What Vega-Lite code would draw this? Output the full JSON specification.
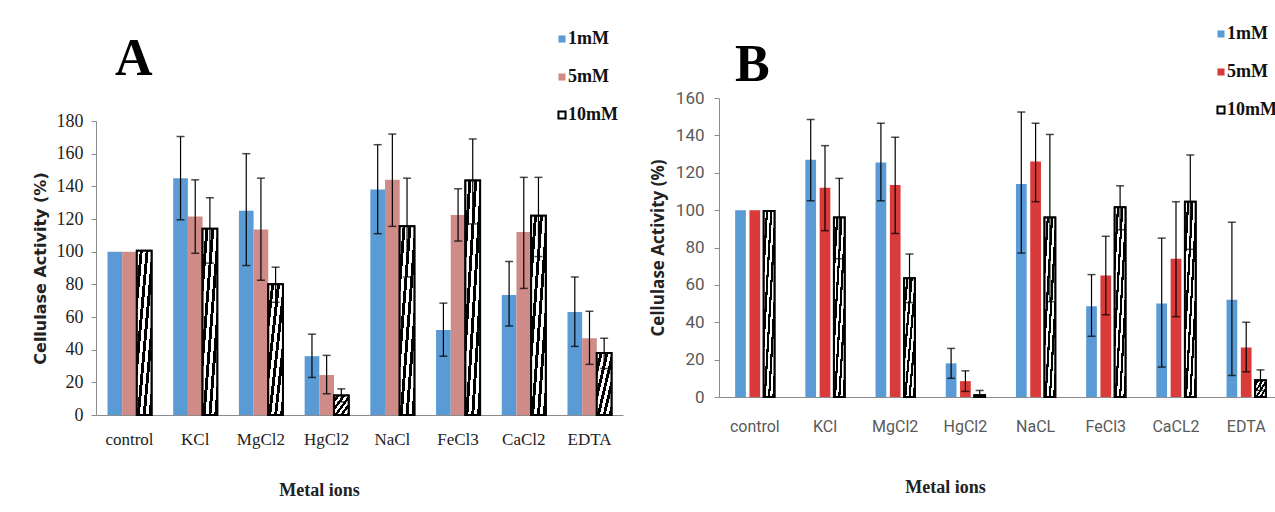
{
  "$schema": "https://vega.github.io/schema/vega-lite/v6.json",
  "background": "white",
  "padding": {"left": 32, "top": 25, "right": 0, "bottom": 0},
  "spacing": 26,
  "config": {
    "view": {"stroke": null},
    "axis": {"grid": false}
  },
  "datasets": {
    "A": [
      {"ion": "control", "conc": "1mM", "v": 100},
      {"ion": "control", "conc": "5mM", "v": 100},
      {"ion": "control", "conc": "10mM", "v": 100.5},
      {"ion": "KCl", "conc": "1mM", "v": 145, "lo": 119.5, "hi": 170.5},
      {"ion": "KCl", "conc": "5mM", "v": 121.5, "lo": 99, "hi": 144},
      {"ion": "KCl", "conc": "10mM", "v": 114, "lo": 93, "hi": 133},
      {"ion": "MgCl2", "conc": "1mM", "v": 125, "lo": 91.5, "hi": 160},
      {"ion": "MgCl2", "conc": "5mM", "v": 113.5, "lo": 82.5, "hi": 145},
      {"ion": "MgCl2", "conc": "10mM", "v": 80, "lo": 69, "hi": 90.5},
      {"ion": "HgCl2", "conc": "1mM", "v": 36, "lo": 23, "hi": 49.5},
      {"ion": "HgCl2", "conc": "5mM", "v": 24.5, "lo": 13, "hi": 36.5},
      {"ion": "HgCl2", "conc": "10mM", "v": 12, "lo": 8, "hi": 16},
      {"ion": "NaCl", "conc": "1mM", "v": 138, "lo": 111, "hi": 165.5},
      {"ion": "NaCl", "conc": "5mM", "v": 144, "lo": 115.5, "hi": 172},
      {"ion": "NaCl", "conc": "10mM", "v": 115.5, "lo": 84.5, "hi": 145},
      {"ion": "FeCl3", "conc": "1mM", "v": 52, "lo": 36, "hi": 68.5},
      {"ion": "FeCl3", "conc": "5mM", "v": 122.5, "lo": 106.5, "hi": 138.5},
      {"ion": "FeCl3", "conc": "10mM", "v": 143.5, "lo": 117, "hi": 169},
      {"ion": "CaCl2", "conc": "1mM", "v": 73.5, "lo": 54.5, "hi": 94},
      {"ion": "CaCl2", "conc": "5mM", "v": 112, "lo": 77.5, "hi": 145.5},
      {"ion": "CaCl2", "conc": "10mM", "v": 122, "lo": 97, "hi": 145.5},
      {"ion": "EDTA", "conc": "1mM", "v": 63, "lo": 42, "hi": 84.5},
      {"ion": "EDTA", "conc": "5mM", "v": 47, "lo": 31, "hi": 63.5},
      {"ion": "EDTA", "conc": "10mM", "v": 38, "lo": 28.5, "hi": 47}
    ],
    "B": [
      {"ion": "control", "conc": "1mM", "v": 100},
      {"ion": "control", "conc": "5mM", "v": 100},
      {"ion": "control", "conc": "10mM", "v": 99.5},
      {"ion": "KCl", "conc": "1mM", "v": 127, "lo": 105, "hi": 148.5},
      {"ion": "KCl", "conc": "5mM", "v": 112, "lo": 89, "hi": 134.5},
      {"ion": "KCl", "conc": "10mM", "v": 96, "lo": 74, "hi": 117},
      {"ion": "MgCl2", "conc": "1mM", "v": 125.5, "lo": 105, "hi": 146.5},
      {"ion": "MgCl2", "conc": "5mM", "v": 113.5, "lo": 87.5, "hi": 139},
      {"ion": "MgCl2", "conc": "10mM", "v": 63.5, "lo": 50.5, "hi": 76.5},
      {"ion": "HgCl2", "conc": "1mM", "v": 18, "lo": 10, "hi": 26},
      {"ion": "HgCl2", "conc": "5mM", "v": 8.5, "lo": 3, "hi": 14},
      {"ion": "HgCl2", "conc": "10mM", "v": 1, "lo": 0, "hi": 3.5},
      {"ion": "NaCL", "conc": "1mM", "v": 114, "lo": 77, "hi": 152.5},
      {"ion": "NaCL", "conc": "5mM", "v": 126, "lo": 104.5, "hi": 146.5},
      {"ion": "NaCL", "conc": "10mM", "v": 96, "lo": 51, "hi": 140.5},
      {"ion": "FeCl3", "conc": "1mM", "v": 48.5, "lo": 32.5, "hi": 65.5},
      {"ion": "FeCl3", "conc": "5mM", "v": 65, "lo": 44, "hi": 86},
      {"ion": "FeCl3", "conc": "10mM", "v": 101.5, "lo": 89.5, "hi": 113},
      {"ion": "CaCL2", "conc": "1mM", "v": 50, "lo": 16, "hi": 85},
      {"ion": "CaCL2", "conc": "5mM", "v": 74, "lo": 43, "hi": 104.5},
      {"ion": "CaCL2", "conc": "10mM", "v": 104.5, "lo": 79, "hi": 129.5},
      {"ion": "EDTA", "conc": "1mM", "v": 52, "lo": 11.5, "hi": 93.5},
      {"ion": "EDTA", "conc": "5mM", "v": 26.5, "lo": 13.5, "hi": 40},
      {"ion": "EDTA", "conc": "10mM", "v": 9, "lo": 3.5, "hi": 14.5}
    ]
  },
  "resolve": {"scale": {"color": "independent", "stroke": "independent", "x": "independent", "y": "independent", "xOffset": "independent"}, "legend": {"color": "independent", "stroke": "independent"}},
  "hconcat": [
    {
      "width": 527,
      "height": 317,
      "data": {"name": "A"},
      "title": {"text": "A", "anchor": "start", "frame": "group", "dx": 19, "offset": -56, "font": "Liberation Serif", "fontSize": 52, "fontWeight": "bold", "color": "black"},
      "encoding": {
        "x": {
          "field": "ion", "type": "nominal",
          "sort": ["control", "KCl", "MgCl2", "HgCl2", "NaCl", "FeCl3", "CaCl2", "EDTA"],
          "scale": {"paddingInner": 0.33, "paddingOuter": 0.175},
          "title": "Metal ions",
          "axis": {"labelAngle": 0, "labelFont": "Liberation Serif", "labelFontSize": 17, "labelColor": "#222222", "ticks": false, "domainColor": "#8c8c8c", "labelPadding": 16, "titleFont": "Liberation Serif", "titleFontSize": 18, "titleFontWeight": "bold", "titleColor": "#222222", "titleX": 223, "titleY": 75, "titleBaseline": "middle"}
        },
        "xOffset": {"field": "conc", "type": "nominal", "sort": ["1mM", "5mM", "10mM"], "scale": {"paddingInner": 0, "paddingOuter": 0}}
      },
      "layer": [
        {
          "mark": {"type": "bar", "strokeWidth": 2},
          "encoding": {
            "y": {"field": "v", "type": "quantitative", "scale": {"domain": [0, 180], "range": [317, 23]}, "title": "Cellulase Activity (%)",
              "axis": {"values": [0, 20, 40, 60, 80, 100, 120, 140, 160, 180], "titleFont": "DejaVu Sans", "titleFontSize": 16, "titleFontWeight": "bold", "titleColor": "#222222", "labelFont": "Liberation Serif", "labelFontSize": 18, "labelColor": "#222222", "domainColor": "#8c8c8c", "tickColor": "#8c8c8c", "tickSize": 5, "labelPadding": 8, "titlePadding": 8}},
            "color": {"field": "conc", "type": "nominal", "sort": ["1mM", "5mM", "10mM"], "scale": {"domain": ["1mM", "5mM", "10mM"], "range": ["#5b9bd5", "#cf8b88", "#ffffff"]},
              "legend": {"orient": "none", "legendX": 457, "legendY": -68, "title": null, "labelFont": "Liberation Serif", "labelFontWeight": "bold", "labelFontSize": 18, "labelColor": "#111111", "symbolType": "square", "symbolSize": 50, "symbolStrokeWidth": 2, "rowPadding": 20, "labelOffset": -3, "padding": 0}},
            "stroke": {"field": "conc", "type": "nominal", "sort": ["1mM", "5mM", "10mM"], "scale": {"domain": ["1mM", "5mM", "10mM"], "range": ["transparent", "transparent", "#000000"]},
              "legend": {"orient": "none", "legendX": 457, "legendY": -68, "title": null, "labelFont": "Liberation Serif", "labelFontWeight": "bold", "labelFontSize": 18, "labelColor": "#111111", "symbolType": "square", "symbolSize": 50, "symbolStrokeWidth": 2, "rowPadding": 20, "labelOffset": -3, "padding": 0}}
          }
        },
        {
          "transform": [{"filter": "datum.conc === '10mM'"}],
          "mark": {"type": "bar", "stroke": "#000000", "strokeWidth": 2, "fill": {"gradient": "linear", "x1": 0, "y1": 0, "x2": 1, "y2": 1, "stops": [
            {"offset": 0, "color": "#ffffff"}, {"offset": 0.1, "color": "#ffffff"}, {"offset": 0.1, "color": "#000000"}, {"offset": 0.2, "color": "#000000"},
            {"offset": 0.2, "color": "#ffffff"}, {"offset": 0.3, "color": "#ffffff"}, {"offset": 0.3, "color": "#000000"}, {"offset": 0.4, "color": "#000000"},
            {"offset": 0.4, "color": "#ffffff"}, {"offset": 0.5, "color": "#ffffff"}, {"offset": 0.5, "color": "#000000"}, {"offset": 0.6, "color": "#000000"},
            {"offset": 0.6, "color": "#ffffff"}, {"offset": 0.7, "color": "#ffffff"}, {"offset": 0.7, "color": "#000000"}, {"offset": 0.8, "color": "#000000"},
            {"offset": 0.8, "color": "#ffffff"}, {"offset": 0.9, "color": "#ffffff"}, {"offset": 0.9, "color": "#000000"}, {"offset": 1, "color": "#000000"}]}},
          "encoding": {"y": {"field": "v", "type": "quantitative", "title": "Cellulase Activity (%)",
              "axis": {"values": [0, 20, 40, 60, 80, 100, 120, 140, 160, 180], "titleFont": "DejaVu Sans", "titleFontSize": 16, "titleFontWeight": "bold", "titleColor": "#222222", "labelFont": "Liberation Serif", "labelFontSize": 18, "labelColor": "#222222", "domainColor": "#8c8c8c", "tickColor": "#8c8c8c", "tickSize": 5, "labelPadding": 8, "titlePadding": 8}}}
        },
        {
          "transform": [{"filter": "isValid(datum.lo)"}],
          "mark": {"type": "rule", "color": "#000000", "strokeWidth": 1.2},
          "encoding": {"y": {"field": "lo", "type": "quantitative", "title": "Cellulase Activity (%)",
              "axis": {"values": [0, 20, 40, 60, 80, 100, 120, 140, 160, 180], "titleFont": "DejaVu Sans", "titleFontSize": 16, "titleFontWeight": "bold", "titleColor": "#222222", "labelFont": "Liberation Serif", "labelFontSize": 18, "labelColor": "#222222", "domainColor": "#8c8c8c", "tickColor": "#8c8c8c", "tickSize": 5, "labelPadding": 8, "titlePadding": 8}}, "y2": {"field": "hi"}}
        },
        {
          "transform": [{"filter": "isValid(datum.hi)"}],
          "mark": {"type": "tick", "color": "#000000", "size": 8, "thickness": 1.5},
          "encoding": {"y": {"field": "hi", "type": "quantitative", "title": "Cellulase Activity (%)",
              "axis": {"values": [0, 20, 40, 60, 80, 100, 120, 140, 160, 180], "titleFont": "DejaVu Sans", "titleFontSize": 16, "titleFontWeight": "bold", "titleColor": "#222222", "labelFont": "Liberation Serif", "labelFontSize": 18, "labelColor": "#222222", "domainColor": "#8c8c8c", "tickColor": "#8c8c8c", "tickSize": 5, "labelPadding": 8, "titlePadding": 8}}}
        },
        {
          "transform": [{"filter": "isValid(datum.lo)"}],
          "mark": {"type": "tick", "color": "#000000", "size": 8, "thickness": 1.5},
          "encoding": {"y": {"field": "lo", "type": "quantitative", "title": "Cellulase Activity (%)",
              "axis": {"values": [0, 20, 40, 60, 80, 100, 120, 140, 160, 180], "titleFont": "DejaVu Sans", "titleFontSize": 16, "titleFontWeight": "bold", "titleColor": "#222222", "labelFont": "Liberation Serif", "labelFontSize": 18, "labelColor": "#222222", "domainColor": "#8c8c8c", "tickColor": "#8c8c8c", "tickSize": 5, "labelPadding": 8, "titlePadding": 8}}}
        }
      ]
    },
    {
      "width": 563,
      "height": 299,
      "data": {"name": "B"},
      "title": {"text": "B", "anchor": "start", "frame": "group", "dx": 16, "offset": -67, "font": "Liberation Serif", "fontSize": 52, "fontWeight": "bold", "color": "black"},
      "encoding": {
        "x": {
          "field": "ion", "type": "nominal",
          "sort": ["control", "KCl", "MgCl2", "HgCl2", "NaCL", "FeCl3", "CaCL2", "EDTA"],
          "scale": {"paddingInner": 0.44, "paddingOuter": 0.23},
          "title": "Metal ions",
          "axis": {"labelAngle": 0, "labelFont": "Roboto", "labelFontSize": 16, "labelColor": "#595959", "ticks": false, "domainColor": "#8c8c8c", "labelPadding": 21, "titleFont": "Liberation Serif", "titleFontSize": 18, "titleFontWeight": "bold", "titleColor": "#222222", "titleX": 226, "titleY": 90, "titleBaseline": "middle"}
        },
        "xOffset": {"field": "conc", "type": "nominal", "sort": ["1mM", "5mM", "10mM"], "scale": {"paddingInner": 0.25, "paddingOuter": 0}}
      },
      "layer": [
        {
          "mark": {"type": "bar", "strokeWidth": 2},
          "encoding": {
            "y": {"field": "v", "type": "quantitative", "scale": {"domain": [0, 160]}, "title": "Cellulase Activity (%)",
              "axis": {"values": [0, 20, 40, 60, 80, 100, 120, 140, 160], "titleFont": "Open Sans", "titleFontSize": 17, "titleFontWeight": "bold", "titleColor": "#222222", "labelFont": "Roboto", "labelFontSize": 17, "labelColor": "#595959", "domainColor": "#8c8c8c", "tickColor": "#8c8c8c", "tickSize": 5, "labelPadding": 10, "titlePadding": 8}},
            "color": {"field": "conc", "type": "nominal", "sort": ["1mM", "5mM", "10mM"], "scale": {"domain": ["1mM", "5mM", "10mM"], "range": ["#5b9bd5", "#d93a3a", "#ffffff"]},
              "legend": {"orient": "none", "legendX": 493, "legendY": -73, "title": null, "labelFont": "Liberation Serif", "labelFontWeight": "bold", "labelFontSize": 18, "labelColor": "#111111", "symbolType": "square", "symbolSize": 50, "symbolStrokeWidth": 2, "rowPadding": 20, "labelOffset": -3, "padding": 0}},
            "stroke": {"field": "conc", "type": "nominal", "sort": ["1mM", "5mM", "10mM"], "scale": {"domain": ["1mM", "5mM", "10mM"], "range": ["transparent", "transparent", "#000000"]},
              "legend": {"orient": "none", "legendX": 493, "legendY": -73, "title": null, "labelFont": "Liberation Serif", "labelFontWeight": "bold", "labelFontSize": 18, "labelColor": "#111111", "symbolType": "square", "symbolSize": 50, "symbolStrokeWidth": 2, "rowPadding": 20, "labelOffset": -3, "padding": 0}}
          }
        },
        {
          "transform": [{"filter": "datum.conc === '10mM'"}],
          "mark": {"type": "bar", "stroke": "#000000", "strokeWidth": 2, "fill": {"gradient": "linear", "x1": 0, "y1": 0, "x2": 1, "y2": 1, "stops": [
            {"offset": 0, "color": "#ffffff"}, {"offset": 0.1, "color": "#ffffff"}, {"offset": 0.1, "color": "#000000"}, {"offset": 0.2, "color": "#000000"},
            {"offset": 0.2, "color": "#ffffff"}, {"offset": 0.3, "color": "#ffffff"}, {"offset": 0.3, "color": "#000000"}, {"offset": 0.4, "color": "#000000"},
            {"offset": 0.4, "color": "#ffffff"}, {"offset": 0.5, "color": "#ffffff"}, {"offset": 0.5, "color": "#000000"}, {"offset": 0.6, "color": "#000000"},
            {"offset": 0.6, "color": "#ffffff"}, {"offset": 0.7, "color": "#ffffff"}, {"offset": 0.7, "color": "#000000"}, {"offset": 0.8, "color": "#000000"},
            {"offset": 0.8, "color": "#ffffff"}, {"offset": 0.9, "color": "#ffffff"}, {"offset": 0.9, "color": "#000000"}, {"offset": 1, "color": "#000000"}]}},
          "encoding": {"y": {"field": "v", "type": "quantitative", "title": "Cellulase Activity (%)",
              "axis": {"values": [0, 20, 40, 60, 80, 100, 120, 140, 160], "titleFont": "Open Sans", "titleFontSize": 17, "titleFontWeight": "bold", "titleColor": "#222222", "labelFont": "Roboto", "labelFontSize": 17, "labelColor": "#595959", "domainColor": "#8c8c8c", "tickColor": "#8c8c8c", "tickSize": 5, "labelPadding": 10, "titlePadding": 8}}}
        },
        {
          "transform": [{"filter": "isValid(datum.lo)"}],
          "mark": {"type": "rule", "color": "#000000", "strokeWidth": 1.2},
          "encoding": {"y": {"field": "lo", "type": "quantitative", "title": "Cellulase Activity (%)",
              "axis": {"values": [0, 20, 40, 60, 80, 100, 120, 140, 160], "titleFont": "Open Sans", "titleFontSize": 17, "titleFontWeight": "bold", "titleColor": "#222222", "labelFont": "Roboto", "labelFontSize": 17, "labelColor": "#595959", "domainColor": "#8c8c8c", "tickColor": "#8c8c8c", "tickSize": 5, "labelPadding": 10, "titlePadding": 8}}, "y2": {"field": "hi"}}
        },
        {
          "transform": [{"filter": "isValid(datum.hi)"}],
          "mark": {"type": "tick", "color": "#000000", "size": 8, "thickness": 1.5},
          "encoding": {"y": {"field": "hi", "type": "quantitative", "title": "Cellulase Activity (%)",
              "axis": {"values": [0, 20, 40, 60, 80, 100, 120, 140, 160], "titleFont": "Open Sans", "titleFontSize": 17, "titleFontWeight": "bold", "titleColor": "#222222", "labelFont": "Roboto", "labelFontSize": 17, "labelColor": "#595959", "domainColor": "#8c8c8c", "tickColor": "#8c8c8c", "tickSize": 5, "labelPadding": 10, "titlePadding": 8}}}
        },
        {
          "transform": [{"filter": "isValid(datum.lo)"}],
          "mark": {"type": "tick", "color": "#000000", "size": 8, "thickness": 1.5},
          "encoding": {"y": {"field": "lo", "type": "quantitative", "title": "Cellulase Activity (%)",
              "axis": {"values": [0, 20, 40, 60, 80, 100, 120, 140, 160], "titleFont": "Open Sans", "titleFontSize": 17, "titleFontWeight": "bold", "titleColor": "#222222", "labelFont": "Roboto", "labelFontSize": 17, "labelColor": "#595959", "domainColor": "#8c8c8c", "tickColor": "#8c8c8c", "tickSize": 5, "labelPadding": 10, "titlePadding": 8}}}
        }
      ]
    }
  ]
}
